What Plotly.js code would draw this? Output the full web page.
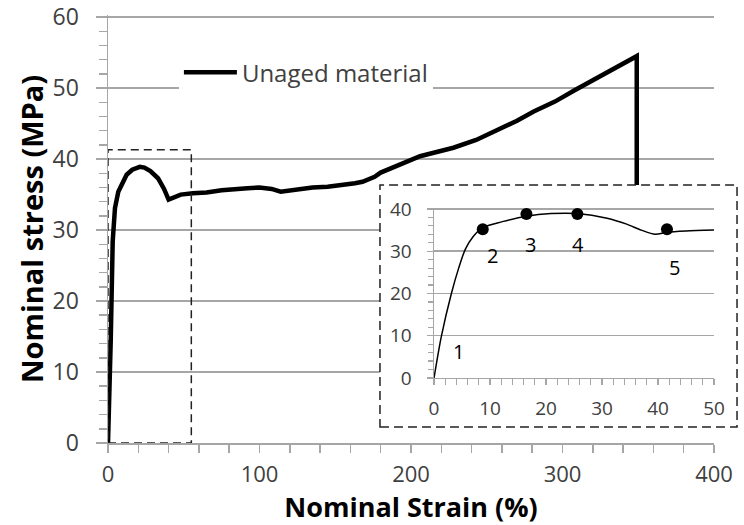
<!DOCTYPE html>
<html><head><meta charset="utf-8">
<script src="https://cdn.plot.ly/plotly-3.0.1.min.js"></script>
<style>html,body{margin:0;padding:0;background:#fff}#chart{width:744px;height:525px}</style>
</head><body><div id="chart"></div>
<script>
// ---- data ----
const seriesName = 'Unaged material';
const xTitle = 'Nominal Strain (%)';
const yTitle = 'Nominal stress (MPa)';

const strain = [0, 1, 1.8, 3.1, 4.6, 6.8, 9, 12.3, 16, 21, 24, 28, 33, 37, 40, 44, 48, 56, 65, 75, 83, 92, 100, 108, 114, 120, 127, 135, 145, 155, 163, 168, 172, 176, 180, 190, 200, 206, 215, 228, 243, 257, 270, 281, 295, 308, 320, 330, 340, 347, 349, 349];
const stress = [0, 7, 14.4, 28.4, 33.1, 35.4, 36.5, 37.8, 38.5, 38.9, 38.8, 38.3, 37.3, 35.8, 34.3, 34.6, 35.0, 35.2, 35.3, 35.6, 35.8, 35.9, 36.0, 35.8, 35.4, 35.6, 35.8, 36.0, 36.1, 36.3, 36.6, 36.8, 37.1, 37.5, 38.1, 39.0, 39.9, 40.4, 40.9, 41.6, 42.7, 44.1, 45.4, 46.7, 48.1, 49.7, 51.1, 52.4, 53.6, 54.4, 54.5, 20];

const insetStrain = [0, 1.3, 3.1, 4.4, 5.6, 7, 8.7, 12.2, 16.5, 20.9, 25.6, 30.9, 34.4, 37, 39.5, 41.6, 45, 50];
const insetStress = [0, 9.8, 20, 26, 30.5, 33.5, 35.6, 37, 38.3, 38.9, 38.9, 37.8, 36.4, 35, 34.0, 34.5, 34.8, 35.0];

const pointStrain = [-0.5, 8.7, 16.5, 25.6, 41.6];
const pointStress = [1.4, 35.2, 38.8, 38.8, 35.2];
const pointLabels = ['1', '2', '3', '4', '5'];
const labelStrain = [4.3, 10.5, 17.3, 25.7, 42.9];
const labelStress = [6.3, 28.9, 31.5, 31.5, 26.2];

// ---- styling ----
const FONT = 'Open Sans, Noto Sans, sans-serif';
const GRID = '#a6a6a6';
const TICKC = '#404040';

const traces = [
  {x: strain, y: stress, xaxis: 'x', yaxis: 'y', type: 'scatter', mode: 'lines',
   name: seriesName, line: {color: '#000', width: 4.5}, hoverinfo: 'skip'},
  // blank cover subplot: white background of the inset frame
  {x: [], y: [], xaxis: 'x2', yaxis: 'y2', type: 'scatter', mode: 'lines', showlegend: false, hoverinfo: 'skip'},
  {x: insetStrain, y: insetStress, xaxis: 'x3', yaxis: 'y3', type: 'scatter', mode: 'lines',
   line: {color: '#000', width: 1.5, shape: 'spline', smoothing: 0.8}, showlegend: false, hoverinfo: 'skip'},
  {x: pointStrain, y: pointStress, xaxis: 'x3', yaxis: 'y3', type: 'scatter', mode: 'markers',
   marker: {color: '#000', size: 12}, cliponaxis: false, showlegend: false, hoverinfo: 'skip'}
];

const annotations = pointLabels.map((t, i) => ({
  x: labelStrain[i], y: labelStress[i], xref: 'x3', yref: 'y3', text: t, showarrow: false,
  font: {family: FONT, size: 20, color: '#000'}
}));

const layout = {
  width: 744, height: 525,
  margin: {l: 108, r: 30, t: 15, b: 82},
  paper_bgcolor: '#fff', plot_bgcolor: '#fff',
  font: {family: FONT, color: TICKC},
  showlegend: true,
  legend: {x: 0.117, y: 0.918, xanchor: 'left', yanchor: 'top', bgcolor: '#fff', itemwidth: 53,
           font: {family: FONT, size: 24, color: TICKC}, borderwidth: 0},
  xaxis: {
    domain: [0, 1], range: [0, 400], dtick: 100, tick0: 0,
    showgrid: false, zeroline: false, showline: true, linecolor: GRID, linewidth: 1.5,
    ticks: 'outside', ticklen: 8, tickwidth: 1.5, tickcolor: GRID,
    minor: {dtick: 20, ticks: 'outside', ticklen: 8, tickwidth: 1.5, tickcolor: GRID, showgrid: false},
    tickfont: {family: FONT, size: 22, color: TICKC}, ticklabelstandoff: 3, ticklabeloverflow: 'allow',
    title: {text: '<b>' + xTitle + '</b>', font: {family: FONT, size: 27, color: '#000'}, standoff: 10},
    automargin: false
  },
  yaxis: {
    domain: [0, 1], range: [0, 60.3], dtick: 10, tick0: 0,
    showgrid: true, gridcolor: GRID, gridwidth: 1.5, zeroline: false,
    showline: true, linecolor: GRID, linewidth: 1.5,
    ticks: 'outside', ticklen: 11, tickwidth: 1.5, tickcolor: GRID,
    minor: {dtick: 2, ticks: 'outside', ticklen: 8, tickwidth: 1.5, tickcolor: GRID, showgrid: false},
    tickfont: {family: FONT, size: 23, color: TICKC}, ticklabelstandoff: 12, ticklabeloverflow: 'allow',
    title: {text: '<b>' + yTitle + '</b>', font: {family: FONT, size: 29, color: '#000'}, standoff: 0},
    automargin: false
  },
  xaxis2: {domain: [0.4488, 1], anchor: 'y2', range: [0, 1], showgrid: false, zeroline: false,
           showline: false, showticklabels: false, ticks: ''},
  yaxis2: {domain: [0.0374, 0.6028], anchor: 'x2', range: [0, 1], showgrid: false, zeroline: false,
           showline: false, showticklabels: false, ticks: ''},
  xaxis3: {
    domain: [0.538, 1], anchor: 'y3', range: [0, 50], dtick: 10, tick0: 0,
    showgrid: false, zeroline: false, showline: true, linecolor: GRID, linewidth: 1.5,
    ticks: 'outside', ticklen: 6, tickwidth: 1.2, tickcolor: GRID,
    minor: {dtick: 2, ticks: 'outside', ticklen: 6, tickwidth: 1.2, tickcolor: GRID, showgrid: false},
    tickfont: {family: FONT, size: 19, color: TICKC}, ticklabelstandoff: 7, ticklabeloverflow: 'allow'
  },
  yaxis3: {
    domain: [0.1519, 0.5498], anchor: 'x3', range: [0, 40.3], dtick: 10, tick0: 0,
    showgrid: true, gridcolor: GRID, gridwidth: 1.5, zeroline: false,
    showline: true, linecolor: GRID, linewidth: 1.5,
    ticks: 'outside', ticklen: 6, tickwidth: 1.2, tickcolor: GRID,
    minor: {dtick: 2, ticks: 'outside', ticklen: 5, tickwidth: 1.2, tickcolor: GRID, showgrid: false},
    tickfont: {family: FONT, size: 19, color: TICKC}, ticklabelstandoff: 11, ticklabeloverflow: 'allow'
  },
  shapes: [
    {type: 'rect', xref: 'x', yref: 'y', x0: 0, x1: 55, y0: 0, y1: 41.3, layer: 'above',
     line: {color: '#222', width: 1.5, dash: '8px,5px'}, fillcolor: 'rgba(0,0,0,0)'},
    {type: 'rect', xref: 'paper', yref: 'paper', x0: 0.4488, x1: 1.038, y0: 0.0374, y1: 0.6028, layer: 'above',
     line: {color: '#222', width: 1.5, dash: '9px,5px'}, fillcolor: 'rgba(0,0,0,0)'}
  ],
  annotations: annotations
};

Plotly.newPlot('chart', traces, layout, {staticPlot: true, displayModeBar: false});
</script>
</body></html>
